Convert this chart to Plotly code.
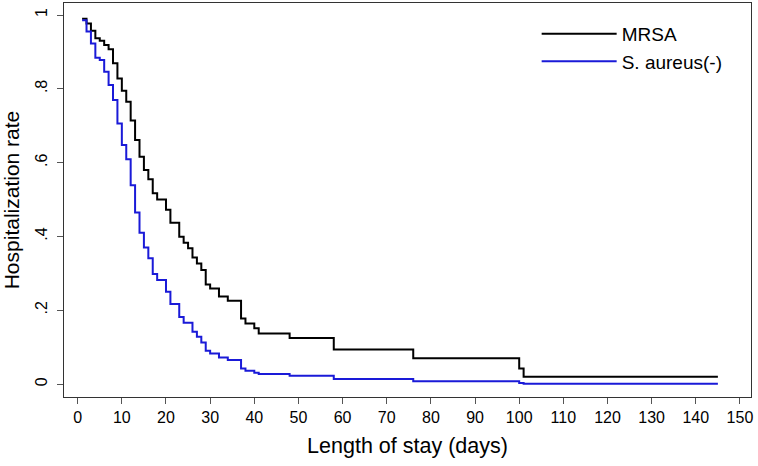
import plotly.graph_objects as go

# Length of stay (days) at which each step begins, and the hospitalization rate from then on
days_mrsa = [1, 2, 3, 4, 5, 6, 7, 8, 9, 10, 11, 12, 13, 14, 15, 16, 17, 18, 20, 21, 23, 24, 25, 26,
             27, 28, 29, 30, 32, 34, 37, 38, 40, 41, 48, 58, 76, 100, 101, 145]
rate_mrsa = [0.99, 0.977, 0.957, 0.937, 0.930, 0.919, 0.907, 0.869, 0.828, 0.795, 0.765, 0.714,
             0.661, 0.616, 0.58, 0.555, 0.517, 0.50, 0.472, 0.437, 0.399, 0.383, 0.368, 0.343,
             0.327, 0.309, 0.270, 0.259, 0.237, 0.226, 0.178, 0.164, 0.151, 0.137, 0.125, 0.094,
             0.070, 0.042, 0.020, 0.020]

days_sa = [1, 2, 3, 4, 5, 6, 7, 8, 9, 10, 11, 12, 13, 14, 15, 16, 17, 18, 20, 21, 23, 24, 26, 27,
           28, 29, 30, 32, 34, 37, 38, 40, 41, 48, 58, 76, 100, 101, 145]
rate_sa = [0.986, 0.955, 0.923, 0.884, 0.878, 0.846, 0.810, 0.770, 0.706, 0.648, 0.609, 0.539,
           0.465, 0.41, 0.37, 0.341, 0.298, 0.282, 0.250, 0.217, 0.182, 0.166, 0.142, 0.128,
           0.113, 0.090, 0.083, 0.072, 0.065, 0.0425, 0.036, 0.031, 0.027, 0.0225, 0.0135,
           0.008, 0.003, 0.001, 0.001]

series_names = ["MRSA", "S. aureus(-)"]
x_ticks = list(range(0, 151, 10))
y_ticks = [0, 0.2, 0.4, 0.6, 0.8, 1]
y_ticktext = ["0", ".2", ".4", ".6", ".8", "1"]

FONT = "Liberation Sans, Arial, sans-serif"

fig = go.Figure()
fig.add_trace(go.Scatter(x=days_mrsa, y=rate_mrsa, mode="lines", name=series_names[0],
                         line=dict(color="#000000", width=2, shape="hv")))
fig.add_trace(go.Scatter(x=days_sa, y=rate_sa, mode="lines", name=series_names[1],
                         line=dict(color="#1a1ad8", width=2, shape="hv")))

axis_common = dict(showgrid=False, zeroline=False, showline=True, mirror=True,
                   linecolor="#333333", linewidth=1.2, ticks="outside", ticklen=6,
                   tickwidth=1.2, tickcolor="#555555", automargin=False,
                   tickfont=dict(family=FONT, size=16, color="#000000"))

fig.update_layout(
    width=758, height=466,
    margin=dict(l=64, r=7, t=3, b=69),
    paper_bgcolor="white", plot_bgcolor="white",
    font=dict(family=FONT, color="#000000"),
    showlegend=True,
    legend=dict(x=0.688, y=0.970, xanchor="left", yanchor="top",
                bgcolor="rgba(0,0,0,0)", borderwidth=0,
                font=dict(family=FONT, size=19, color="#000000"),
                itemwidth=75, tracegroupgap=4),
    xaxis=dict(axis_common, range=[-3.1, 152.5], tickvals=x_ticks,
               title=dict(text="Length of stay (days)", font=dict(family=FONT, size=21.5), standoff=12)),
    yaxis=dict(axis_common, range=[-0.035, 1.0325], tickvals=y_ticks, ticktext=y_ticktext,
               tickangle=-90, ticklabelstandoff=4,
               title=dict(text="Hospitalization rate", font=dict(family=FONT, size=21), standoff=10)),
)

fig.write_html("out.html",
               config={"displayModeBar": False},
               post_script="document.body.style.margin='0';document.body.style.overflow='hidden';")
